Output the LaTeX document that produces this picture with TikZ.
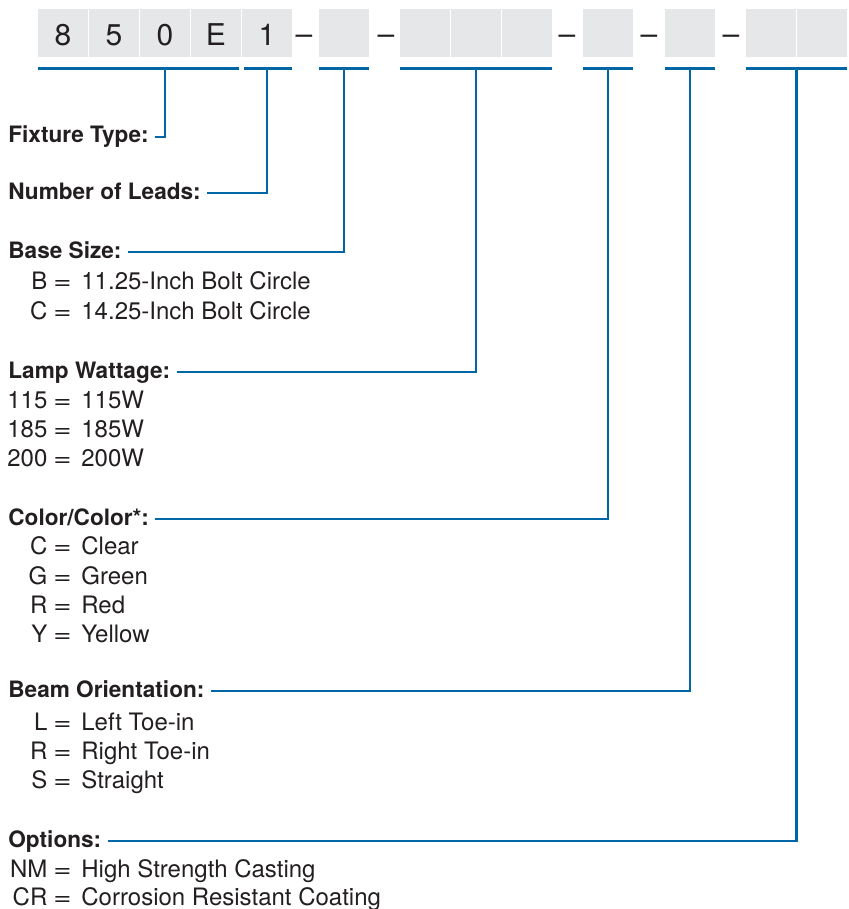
\documentclass[tikz,border=0pt]{standalone}
\usepackage{fontspec}
\setmainfont{TeX Gyre Heros}
\usetikzlibrary{positioning}
\definecolor{codeblue}{RGB}{0,102,166}
\definecolor{cellgray}{RGB}{230,231,233}
\definecolor{inkgray}{RGB}{35,31,32}
\tikzset{
  cell/.style={fill=cellgray,minimum width=24.6pt,inner sep=0pt,
    text height=18pt,text depth=6pt,
    font=\fontsize{15}{17}\selectfont,text=inkgray},
  sepdash/.style={anchor=base,inner sep=0pt,
    font=\fontsize{15}{17}\selectfont,text=inkgray},
  lead/.style={draw=codeblue,line width=1.4pt},
  lbl/.style={anchor=base west,inner xsep=3pt,inner ysep=0pt,
    font=\fontsize{11.3}{13}\selectfont\bfseries,text=inkgray},
  itm/.style={anchor=base west,inner sep=0pt,
    font=\fontsize{12}{14}\selectfont,text=inkgray},
}
\newcommand{\codeitem}[2]{\makebox[19.5pt][r]{#1}\hspace{1.5pt}\makebox[12pt]{\scalebox{1.3}[1]{=}}\hspace{3.5pt}#2}

\begin{document}
\begin{tikzpicture}[x=0.5pt,y=-0.5pt]
  \useasboundingbox (0,0) rectangle (849,909);
  % code cells
  \node[cell,anchor=north west] (c8) at (38,9) {8};
  \node[cell,right=0.5pt of c8] (c5) {5};
  \node[cell,right=0.5pt of c5] (c0) {0};
  \node[cell,right=0.5pt of c0] (cE) {E};
  \node[cell,right=0.5pt of cE] (c1) {1};
  \node[cell,anchor=north west] (b1) at (319,9) {};
  \node[cell,anchor=north west] (w1) at (400,9) {};
  \node[cell,right=0.5pt of w1] (w2) {};
  \node[cell,right=0.5pt of w2] (w3) {};
  \node[cell,anchor=north west] (k1) at (583,9) {};
  \node[cell,anchor=north west] (o1) at (665,9) {};
  \node[cell,anchor=north west] (p1) at (746,9) {};
  \node[cell,right=0.5pt of p1] (p2) {};
  % dashes
  \node[sepdash] (d1) at (304,45) {--};
  \node[sepdash] (d2) at (386,45) {--};
  \node[sepdash] (d3) at (567,45) {--};
  \node[sepdash] (d4) at (649,45) {--};
  \node[sepdash] (d5) at (731,45) {--};

  % underlines
  \draw[lead] ([yshift=-5.5pt]c8.south west) -- ([xshift=-1pt,yshift=-5.5pt]cE.south east);
  \draw[lead] ([xshift=1pt,yshift=-5.5pt]c1.south west) -- ([yshift=-5.5pt]c1.south east);
  \draw[lead] ([yshift=-5.5pt]b1.south west) -- ([yshift=-5.5pt]b1.south east);
  \draw[lead] ([yshift=-5.5pt]w1.south west) -- ([yshift=-5.5pt]w3.south east);
  \draw[lead] ([yshift=-5.5pt]k1.south west) -- ([yshift=-5.5pt]k1.south east);
  \draw[lead] ([yshift=-5.5pt]o1.south west) -- ([yshift=-5.5pt]o1.south east);
  \draw[lead] ([yshift=-5.5pt]p1.south west) -- ([yshift=-5.5pt]p2.south east);

  % labels
  \node[lbl] (fix) at (2,143) {Fixture Type:};
  \node[lbl] (leads) at (2,199) {Number of Leads:};
  \node[lbl] (base) at (2,258) {Base Size:};
  \node[itm] (baseB) at (8,289) {\codeitem{B}{11.25-Inch Bolt Circle}};
  \node[itm] (baseC) at (8,319) {\codeitem{C}{14.25-Inch Bolt Circle}};
  \node[lbl] (lamp) at (2,378) {Lamp Wattage:};
  \node[itm] (lamp115) at (8,408) {\codeitem{115}{115W}};
  \node[itm] (lamp185) at (8,437) {\codeitem{185}{185W}};
  \node[itm] (lamp200) at (8,466) {\codeitem{200}{200W}};
  \node[lbl] (color) at (2,525) {Color/Color*:};
  \node[itm] (colC) at (8,554) {\codeitem{C}{Clear}};
  \node[itm] (colG) at (8,584) {\codeitem{G}{Green}};
  \node[itm] (colR) at (8,613) {\codeitem{R}{Red}};
  \node[itm] (colY) at (8,642) {\codeitem{Y}{Yellow}};
  \node[lbl] (beam) at (2,697) {Beam Orientation:};
  \node[itm] (beamL) at (8,730) {\codeitem{L}{Left Toe-in}};
  \node[itm] (beamR) at (8,759) {\codeitem{R}{Right Toe-in}};
  \node[itm] (beamS) at (8,788) {\codeitem{S}{Straight}};
  \node[lbl] (opt) at (2,847) {Options:};
  \node[itm] (optNM) at (8,877) {\codeitem{NM}{High Strength Casting}};
  \node[itm] (optCR) at (8,905) {\codeitem{CR}{Corrosion Resistant Coating}};

  % leader lines
  \draw[lead] ([yshift=3pt]fix.base east) -| ([yshift=-5.5pt]c0.south);
  \draw[lead] ([yshift=3pt]leads.base east) -| ([yshift=-5.5pt]c1.south);
  \draw[lead] ([yshift=3pt]base.base east) -| ([yshift=-5.5pt]b1.south);
  \draw[lead] ([yshift=3pt]lamp.base east) -| ([yshift=-5.5pt]w2.south);
  \draw[lead] ([yshift=3pt]color.base east) -| ([yshift=-5.5pt]k1.south);
  \draw[lead] ([yshift=3pt]beam.base east) -| ([yshift=-5.5pt]o1.south);
  \draw[lead] ([yshift=3pt]opt.base east) -| ([xshift=0.25pt,yshift=-5.5pt]p1.south east);
\end{tikzpicture}
\end{document}
